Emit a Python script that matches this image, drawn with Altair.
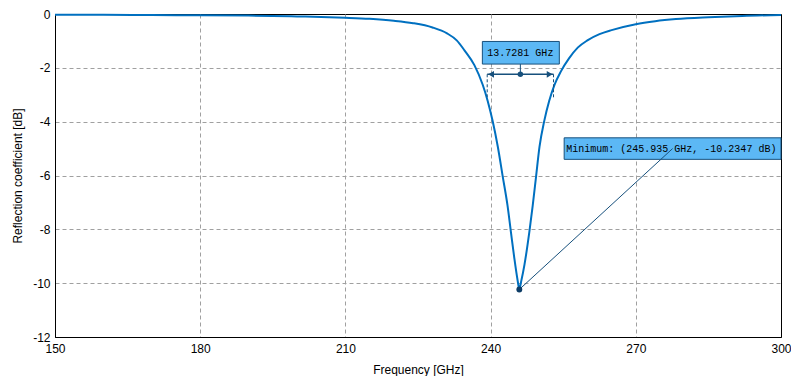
import altair as alt
import pandas as pd

# ---- data ----
freq = [150, 160, 170, 180, 190, 200, 205, 210, 215, 220, 224, 228, 231, 233, 234.6,
        236.65, 238.37, 239.4, 240.4, 241.5, 242.5, 243.5, 244.2, 244.9, 245.6,
        245.935, 246.3, 247.0, 248.0, 248.7, 249.4, 250.1, 251.1, 252.1, 253.2,
        254.5, 256.2, 258, 260, 262.5, 265, 270, 274, 278.3, 285, 292, 300]
refl_db = [-0.03, -0.03, -0.04, -0.05, -0.06, -0.09, -0.11, -0.14, -0.18, -0.25,
           -0.34, -0.50, -0.72, -0.98, -1.35, -1.90, -2.63, -3.23, -3.96, -4.94,
           -6.03, -7.12, -8.1, -9.07, -9.92, -10.2347, -9.95, -9.31, -8.1, -7.12,
           -6.03, -4.94, -3.96, -3.23, -2.63, -2.14, -1.65, -1.25, -0.98, -0.75,
           -0.6, -0.38, -0.27, -0.19, -0.12, -0.07, -0.04]

x_ticks = [150, 180, 210, 240, 270, 300]
y_ticks = [-12, -10, -8, -6, -4, -2, 0]

# bandwidth marker (-3 dB points) and its label
bw_left, bw_right, bw_level, bw_end_level = 239.3, 253.0, -2.24, -3.1
bw_center = 246.15
bw_label = "13.7281 GHz"
bw_box = {"x1": 238.3, "x2": 254.2, "y1": -1.02, "y2": -1.86}

# minimum marker and its label
min_f, min_db = 245.935, -10.2347
min_label = "Minimum: (245.935 GHz, -10.2347 dB)"
min_box = {"x1": 255.2, "x2": 300, "y1": -4.6, "y2": -5.4}

curve = pd.DataFrame({"f": freq, "db": refl_db})

xs = alt.Scale(domain=[150, 300], nice=False, zero=False)
ys = alt.Scale(domain=[-12, 0], nice=False, zero=False)

AX = alt.Axis(title="Frequency [GHz]", values=x_ticks, labelFlush=False, ticks=False,
              labelPadding=6, titlePadding=10,
              gridOpacity={"condition": {"test": "datum.value <= 150 || datum.value >= 300", "value": 0},
                           "value": 1})
AY = alt.Axis(title="Reflection coefficient [dB]", values=y_ticks, labelExpr="datum.value + ''",
              labelFlush=False, ticks=False, labelPadding=5, titlePadding=8,
              gridOpacity={"condition": {"test": "datum.value <= -12 || datum.value >= 0", "value": 0},
                           "value": 1})

ANN = "#17507c"
BOXFILL = "#5cb8f5"
MONO = "Liberation Mono"


def X(field):
    return alt.X(field, type="quantitative", scale=xs, axis=AX)


def Y(field):
    return alt.Y(field, type="quantitative", scale=ys, axis=AY)


line = alt.Chart(curve).mark_line(color="#0070c0", strokeWidth=2, interpolate="monotone").encode(
    x=X("f"), y=Y("db"))

bwbox_df = pd.DataFrame([bw_box])
bw_rect = alt.Chart(bwbox_df).mark_rect(fill=BOXFILL, stroke=ANN, strokeWidth=1).encode(
    x=X("x1"), x2="x2", y=Y("y1"), y2="y2")

bw_df = pd.DataFrame({"l": [bw_left], "r": [bw_right], "lv": [bw_level], "el": [bw_end_level],
                      "c": [bw_center], "top": [bw_box["y2"]], "lab": [bw_label],
                      "ty": [(bw_box["y1"] + bw_box["y2"]) / 2],
                      "al": [bw_left + 0.8], "ar": [bw_right - 0.8]})
bw_base = alt.Chart(bw_df)
bw_line = bw_base.mark_rule(color=ANN, strokeWidth=1.5).encode(x=X("l"), x2="r", y=Y("lv"))
bw_endl = bw_base.mark_rule(color=ANN, strokeWidth=1, strokeDash=[3, 2]).encode(x=X("l"), y=Y("lv"), y2="el")
bw_endr = bw_base.mark_rule(color=ANN, strokeWidth=1, strokeDash=[3, 2]).encode(x=X("r"), y=Y("lv"), y2="el")
bw_stem = bw_base.mark_rule(color=ANN, strokeWidth=1).encode(x=X("c"), y=Y("lv"), y2="top")
bw_dot = bw_base.mark_circle(color=ANN, size=30, opacity=1).encode(x=X("c"), y=Y("lv"))
bw_al = bw_base.mark_point(shape="triangle-left", filled=True, color=ANN, size=45, opacity=1).encode(x=X("al"), y=Y("lv"))
bw_ar = bw_base.mark_point(shape="triangle-right", filled=True, color=ANN, size=45, opacity=1).encode(x=X("ar"), y=Y("lv"))
bw_text = bw_base.mark_text(font=MONO, fontSize=10, color="black", align="center", baseline="middle").encode(
    x=X("c"), y=Y("ty"), text="lab:N")

minbox_df = pd.DataFrame([min_box])
min_rect = alt.Chart(minbox_df).mark_rect(fill=BOXFILL, stroke=ANN, strokeWidth=1).encode(
    x=X("x1"), x2="x2", y=Y("y1"), y2="y2")

min_df = pd.DataFrame({"f": [min_f], "db": [min_db],
                       "bx": [(min_box["x1"] + min_box["x2"]) / 2],
                       "by": [(min_box["y1"] + min_box["y2"]) / 2],
                       "tx": [min_box["x1"] + 0.45], "lab": [min_label]})
min_base = alt.Chart(min_df)
min_lead = min_base.mark_rule(color=ANN, strokeWidth=1).encode(x=X("f"), y=Y("db"), x2="bx", y2="by")
min_text = min_base.mark_text(font=MONO, fontSize=10, color="black", align="left", baseline="middle").encode(
    x=X("tx"), y=Y("by"), text="lab:N")
min_dot = min_base.mark_circle(color="#0d3c66", size=35, opacity=1).encode(x=X("f"), y=Y("db"))

chart = alt.layer(
    line, bw_rect, bw_line, bw_endl, bw_endr, bw_stem, bw_al, bw_ar, bw_dot, bw_text,
    min_rect, min_lead, min_text, min_dot
).properties(
    width=726, height=323,
    padding={"left": 47, "top": 6, "right": 10, "bottom": 39},
    autosize=alt.AutoSizeParams(type="none"),
    background="white",
).configure_view(
    stroke="black", strokeWidth=1
).configure_axis(
    domainColor="black", domainWidth=1,
    gridColor="#a0a0a0", gridDash=[4, 3], gridWidth=1,
    labelFont="Liberation Sans", labelFontSize=12, labelColor="black",
    titleFont="Liberation Sans", titleFontSize=12, titleFontWeight="normal", titleColor="black",
)

chart.save("out.html", embed_options={"renderer": "svg", "actions": False})
